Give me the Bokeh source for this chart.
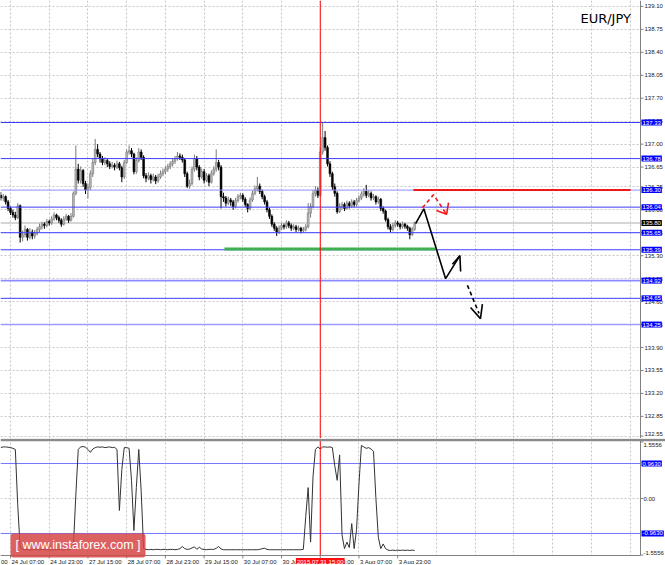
from bokeh.plotting import figure
from bokeh.models import Range1d, FixedTicker, Label, Span, ColumnDataSource
from bokeh.core.properties import value
from bokeh.layouts import column
from bokeh.embed import file_html
from bokeh.resources import INLINE

# ---------------- data (H1 bars, index 0 = 24 Jul 07:00) ----------------
bars = list(range(-4, 168))
opens = [136.22, 136.18, 136.20, 136.12, 136.02, 135.96, 135.92, 135.88,
         136.06, 135.58, 135.62, 135.70, 135.58, 135.66, 135.60, 135.64,
         135.70, 135.74, 135.78, 135.76, 135.82, 135.80, 135.86, 135.92,
         135.88, 135.84, 135.78, 135.86, 135.90, 135.84, 135.90, 136.25,
         136.62, 136.45, 136.60, 136.40, 136.30, 136.34, 136.55, 136.72,
         136.92, 136.85, 136.78, 136.72, 136.75, 136.70, 136.66, 136.68,
         136.65, 136.70, 136.64, 136.50, 136.72, 136.88, 136.90, 136.85,
         136.58, 136.75, 136.88, 136.80, 136.52, 136.48, 136.52, 136.46,
         136.50, 136.44, 136.50, 136.55, 136.58, 136.62, 136.66, 136.70,
         136.74, 136.78, 136.82, 136.80, 136.76, 136.55, 136.36, 136.40,
         136.62, 136.78, 136.65, 136.50, 136.58, 136.45, 136.52, 136.42,
         136.55, 136.62, 136.72, 136.65, 136.20, 136.18, 136.10, 136.15,
         136.12, 136.05, 136.14, 136.20, 136.22, 136.16, 136.08, 136.02,
         136.15, 136.25, 136.32, 136.36, 136.28, 136.20, 136.12, 136.00,
         135.90, 135.78, 135.72, 135.66, 135.72, 135.76, 135.74, 135.80,
         135.76, 135.72, 135.74, 135.70, 135.72, 135.68, 135.70, 135.74,
         135.95, 136.05, 136.25, 136.30, 136.22, 136.88, 137.10, 136.95,
         136.70, 136.55, 136.35, 136.25, 135.97, 136.05, 136.08, 136.02,
         136.10, 136.06, 136.12, 136.08, 136.14, 136.18, 136.24, 136.28,
         136.22, 136.25, 136.18, 136.20, 136.12, 136.16, 136.02, 135.98,
         135.85, 135.74, 135.70, 135.76, 135.80, 135.78, 135.74, 135.78,
         135.75, 135.72, 135.62, 135.70]
highs = [136.27, 136.24, 136.22, 136.15, 136.05, 136.00, 135.97, 136.10,
         136.08, 135.68, 135.76, 135.72, 135.72, 135.70, 135.69, 135.74,
         135.79, 135.82, 135.81, 135.86, 135.85, 135.90, 135.96, 135.94,
         135.91, 135.87, 135.90, 135.94, 135.92, 135.95, 136.28, 136.98,
         136.70, 136.66, 136.62, 136.44, 136.40, 136.60, 136.78, 137.08,
         137.00, 136.88, 136.82, 136.80, 136.78, 136.74, 136.73, 136.71,
         136.75, 136.73, 136.67, 136.76, 136.92, 136.98, 136.94, 136.87,
         136.80, 136.94, 136.92, 136.83, 136.56, 136.57, 136.55, 136.55,
         136.53, 136.55, 136.60, 136.63, 136.66, 136.70, 136.74, 136.78,
         136.82, 136.88, 136.86, 136.84, 136.79, 136.58, 136.46, 136.66,
         136.84, 136.82, 136.68, 136.63, 136.62, 136.56, 136.55, 136.60,
         136.66, 136.92, 136.76, 136.68, 136.26, 136.21, 136.20, 136.18,
         136.15, 136.18, 136.24, 136.26, 136.25, 136.19, 136.10, 136.19,
         136.29, 136.37, 136.50, 136.40, 136.31, 136.23, 136.15, 136.03,
         135.93, 135.81, 135.75, 135.76, 135.80, 135.79, 135.84, 135.83,
         135.79, 135.78, 135.77, 135.76, 135.74, 135.74, 135.78, 136.10,
         136.10, 136.30, 136.36, 136.34, 136.95, 137.33, 137.20, 136.98,
         136.74, 136.58, 136.40, 136.28, 136.10, 136.12, 136.11, 136.14,
         136.13, 136.16, 136.15, 136.18, 136.22, 136.28, 136.33, 136.38,
         136.30, 136.28, 136.24, 136.22, 136.20, 136.18, 136.05, 136.00,
         135.88, 135.78, 135.80, 135.84, 135.83, 135.80, 135.82, 135.80,
         135.77, 135.74, 135.74, 135.82]
lows = [136.14, 136.13, 136.08, 135.98, 135.92, 135.88, 135.84, 135.86,
        135.50, 135.52, 135.58, 135.53, 135.55, 135.55, 135.56, 135.61,
        135.66, 135.70, 135.71, 135.73, 135.76, 135.77, 135.83, 135.84,
        135.80, 135.74, 135.76, 135.83, 135.80, 135.82, 135.88, 136.22,
        136.40, 136.40, 136.35, 136.24, 136.17, 136.30, 136.50, 136.68,
        136.80, 136.72, 136.68, 136.68, 136.65, 136.62, 136.63, 136.60,
        136.62, 136.60, 136.42, 136.47, 136.70, 136.84, 136.80, 136.54,
        136.55, 136.72, 136.76, 136.48, 136.42, 136.45, 136.40, 136.43,
        136.39, 136.41, 136.47, 136.51, 136.54, 136.58, 136.62, 136.66,
        136.70, 136.75, 136.76, 136.72, 136.50, 136.33, 136.32, 136.37,
        136.58, 136.60, 136.45, 136.47, 136.40, 136.42, 136.36, 136.40,
        136.52, 136.58, 136.60, 136.02, 136.12, 136.05, 136.07, 136.06,
        136.00, 136.02, 136.11, 136.16, 136.12, 136.04, 135.96, 135.99,
        136.12, 136.22, 136.28, 136.24, 136.16, 136.08, 135.96, 135.86,
        135.74, 135.68, 135.60, 135.63, 135.69, 135.70, 135.71, 135.72,
        135.68, 135.69, 135.66, 135.67, 135.64, 135.65, 135.67, 135.72,
        135.88, 136.02, 136.20, 136.18, 136.20, 136.84, 136.90, 136.66,
        136.50, 136.30, 136.20, 135.94, 135.95, 136.00, 135.98, 136.00,
        136.02, 136.03, 136.04, 136.05, 136.11, 136.15, 136.20, 136.18,
        136.19, 136.14, 136.15, 136.08, 136.09, 135.98, 135.94, 135.82,
        135.70, 135.66, 135.67, 135.73, 135.74, 135.70, 135.71, 135.71,
        135.68, 135.55, 135.60, 135.68]
closes = [136.18, 136.20, 136.12, 136.02, 135.96, 135.92, 135.88, 136.06,
          135.58, 135.62, 135.70, 135.58, 135.66, 135.60, 135.64, 135.70,
          135.74, 135.78, 135.76, 135.82, 135.80, 135.86, 135.92, 135.88,
          135.84, 135.78, 135.86, 135.90, 135.84, 135.90, 136.25, 136.62,
          136.45, 136.60, 136.40, 136.30, 136.34, 136.55, 136.72, 136.92,
          136.85, 136.78, 136.72, 136.75, 136.70, 136.66, 136.68, 136.65,
          136.70, 136.64, 136.50, 136.72, 136.88, 136.90, 136.85, 136.58,
          136.75, 136.88, 136.80, 136.52, 136.48, 136.52, 136.46, 136.50,
          136.44, 136.50, 136.55, 136.58, 136.62, 136.66, 136.70, 136.74,
          136.78, 136.82, 136.80, 136.76, 136.55, 136.36, 136.40, 136.62,
          136.78, 136.65, 136.50, 136.58, 136.45, 136.52, 136.42, 136.55,
          136.62, 136.72, 136.65, 136.20, 136.18, 136.10, 136.15, 136.12,
          136.05, 136.14, 136.20, 136.22, 136.16, 136.08, 136.02, 136.15,
          136.25, 136.32, 136.36, 136.28, 136.20, 136.12, 136.00, 135.90,
          135.78, 135.72, 135.66, 135.72, 135.76, 135.74, 135.80, 135.76,
          135.72, 135.74, 135.70, 135.72, 135.68, 135.70, 135.74, 135.95,
          136.05, 136.25, 136.30, 136.22, 136.88, 137.10, 136.95, 136.70,
          136.55, 136.35, 136.25, 135.97, 136.05, 136.08, 136.02, 136.10,
          136.06, 136.12, 136.08, 136.14, 136.18, 136.24, 136.28, 136.22,
          136.25, 136.18, 136.20, 136.12, 136.16, 136.02, 135.98, 135.85,
          135.74, 135.70, 135.76, 135.80, 135.78, 135.74, 135.78, 135.75,
          135.72, 135.62, 135.70, 135.80]
oscillator = [1.40, 1.42, 1.42, 1.41, 1.40, 1.38, 1.35, -0.20,
              -1.35, -1.40, -1.41, -1.40, -1.42, -1.41, -1.40, -1.41,
              -1.42, -1.40, -1.41, -1.40, -1.41, -1.42, -1.40, -1.41,
              -1.40, -1.41, -1.42, -1.40, -1.41, -1.40, -1.30, 0.10,
              1.35, 1.42, 1.43, 1.41, 1.35, 1.27, 1.36, 1.40,
              1.42, 1.41, 1.42, 1.40, 1.41, 1.42, 1.40, 1.41,
              1.35, -0.33, 0.80, 1.40, 1.40, 1.38, 0.50, -0.88,
              0.30, 1.35, 0.20, -1.38, -1.40, -1.41, -1.40, -1.41,
              -1.40, -1.40, -1.41, -1.40, -1.40, -1.41, -1.40, -1.40,
              -1.41, -1.40, -1.38, -1.32, -1.38, -1.40, -1.39, -1.36,
              -1.33, -1.40, -1.34, -1.39, -1.40, -1.41, -1.40, -1.40,
              -1.40, -1.37, -1.32, -1.39, -1.41, -1.41, -1.41, -1.41,
              -1.41, -1.41, -1.41, -1.41, -1.41, -1.41, -1.41, -1.41,
              -1.41, -1.41, -1.41, -1.40, -1.38, -1.37, -1.40, -1.41,
              -1.41, -1.41, -1.41, -1.41, -1.41, -1.41, -1.41, -1.41,
              -1.41, -1.41, -1.41, -1.41, -1.41, -1.40, -0.50, 0.30,
              -1.20, 0.60, 1.35, 1.42, 1.36, 1.42, 1.42, 1.41,
              1.42, 1.40, 0.90, 0.50, 1.20, -1.00, -1.38, -1.20,
              -1.35, -0.69, -1.38, -0.85, 0.40, 1.46, 1.42, 1.38,
              1.40, 1.36, 1.30, 0.00, -1.07, -1.38, -1.25, -1.38,
              -1.42, -1.43, -1.42, -1.43, -1.42, -1.43, -1.42, -1.43,
              -1.42, -1.43, -1.42, -1.43]

symbol = "EUR/JPY"
level_values = [137.33, 136.78, 136.30, 136.04, 135.65, 135.39, 134.92, 134.65, 134.25]
level_labels = ["137.33", "136.78", "136.30", "136.04", "135.65", "135.39", "134.92", "134.65", "134.25"]
current_price = 135.80
current_label = "135.80"
price_ticks = [139.10, 138.75, 138.40, 138.05, 137.70, 137.35, 137.00, 136.65, 136.35,
               136.00, 135.65, 135.30, 134.95, 134.60, 134.25, 133.90, 133.55, 133.20,
               132.85, 132.55]
osc_levels = [0.963, -0.963]
osc_level_labels = ["0.9630", "-0.9630"]
osc_ticks = [1.5556, 0.0, -1.5556]
osc_tick_labels = ["1.5556", "0.00", "-1.5556"]
time_tick_bars = [0, 16, 32, 48, 64, 80, 96, 112, 128, 144, 160]
time_tick_labels = ["24 Jul 07:00", "24 Jul 23:00", "27 Jul 15:00",
                    "28 Jul 07:00", "28 Jul 23:00", "29 Jul 15:00", "30 Jul 07:00",
                    "30 Jul 23:00", "31 Jul 15:00", "3 Aug 07:00", "3 Aug 23:00"]
edge_time_fragment = "00"   # tail of the 23 Jul 15:00 label at the left edge
grid_bars = [0, 16, 32, 48, 64, 80, 96, 112, 128, 144, 160, 176, 192, 208, 224, 240, 256]
cursor_bar = 128
cursor_label = "2015.07.31 15:00"

# drawn analysis objects (bar index, price)
resistance_price = 136.30
resistance_bars = [166.5, 256.2]
support_price = 135.40
support_bars = [88.4, 175.6]
path_bars = [167.4, 170.8, 179.8, 185.7]
path_prices = [135.79, 136.015, 134.95, 135.30]
path_head_bars = [182.6, 185.7, 186.0]
path_head_prices = [135.17, 135.30, 135.06]
dash_bars = [188.8, 193.6]
dash_prices = [134.85, 134.42]
dash_head_bars = [190.1, 194.2, 195.0]
dash_head_prices = [134.51, 134.34, 134.56]
red_bars = [170.2, 174.8, 180.2]
red_prices = [136.03, 136.23, 135.93]
red_head_bars = [176.0, 180.2, 181.0]
red_head_prices = [135.99, 135.93, 136.11]

# ---------------- layout constants ----------------
FONT = "Liberation Sans"
AX_FS = "6px"
X_START, X_END = -4.132, 270.66   # full window width
AXIS_X = 260.33                   # price-scale line
P_LO, P_HI = 132.513, 139.19      # main panel price range
O_LO, O_HI = -1.816, 1.651        # oscillator panel incl. time strip
O_BASE, O_TOP = -1.568, 1.609     # oscillator panel bottom/top borders
TIME_Y = -1.747
W = 665
xr = Range1d(X_START, X_END)
AX = "#808080"

bull = [c >= o for o, c in zip(opens, closes)]
src = ColumnDataSource(dict(
    x=bars, h=highs, l=lows,
    top=[max(o, c) for o, c in zip(opens, closes)],
    bot=[min(o, c) for o, c in zip(opens, closes)],
    fill=["#b8b8b8" if b else "#000000" for b in bull],
    line=["#7a7a7a" if b else "#000000" for b in bull],
))


def base_fig(h, yr):
    f = figure(frame_width=W, frame_height=h, x_range=xr, y_range=yr,
               x_axis_location=None, y_axis_location=None, output_backend="svg",
               toolbar_location=None, min_border=0, outline_line_color=None,
               background_fill_color="white", border_fill_color="white")
    return f


# ================= main price panel =================
top = base_fig(438, Range1d(P_LO, P_HI))
top.xgrid.ticker = FixedTicker(ticks=grid_bars)
top.ygrid.ticker = FixedTicker(ticks=price_ticks)
for g in (top.xgrid, top.ygrid):
    g.grid_line_color = "#c6c6c6"
    g.grid_line_dash = "2 2"

top.add_layout(Span(location=current_price, dimension="width", line_color="#d6d6d6",
                    line_width=2, level="underlay"))

top.segment(x0="x", y0="h", x1="x", y1="l", source=src, line_color="line", line_width=1)
top.vbar(x="x", top="top", bottom="bot", width=0.75, source=src,
         fill_color="fill", line_color="line", line_width=0.6)

lev_src = ColumnDataSource(dict(
    y=level_values,
    color=["#3c3cff", "#3c3cff", "#8c8cff", "#3c3cff", "#3c3cff", "#3c3cff",
           "#8c8cff", "#3c3cff", "#9a9aff"],
    width=[1, 1, 1, 1, 1, 1, 1.6, 1, 1.6],
))
top.segment(x0=X_START, x1=AXIS_X, y0="y", y1="y", source=lev_src,
            line_color="color", line_width="width")

top.line(x=resistance_bars, y=[resistance_price, resistance_price], line_color="#f01818",
         line_width=2)
top.line(x=support_bars, y=[support_price, support_price], line_color="#3fb04f",
         line_width=3)
top.line(x=path_bars, y=path_prices, line_color="black", line_width=1.6)
top.line(x=path_head_bars, y=path_head_prices, line_color="black", line_width=1.6)
top.line(x=dash_bars, y=dash_prices, line_color="black", line_width=1.6, line_dash="4 3")
top.line(x=dash_head_bars, y=dash_head_prices, line_color="black", line_width=1.6)
top.line(x=red_bars, y=red_prices, line_color="#f01818", line_width=1.6, line_dash="4 3")
top.line(x=red_head_bars, y=red_head_prices, line_color="#f01818", line_width=1.6)

top.segment(x0=cursor_bar, x1=cursor_bar, y0=P_LO, y1=P_HI, line_color="#ff0000",
            line_width=1)

# price scale (drawn inside the frame)
top.quad(left=AXIS_X, right=X_END + 1, bottom=P_LO - 1, top=P_HI + 1,
         fill_color="white", line_color=None)
top.segment(x0=AXIS_X, x1=AXIS_X, y0=P_LO, y1=P_HI, line_color=AX, line_width=1)
top.segment(x0=AXIS_X, x1=AXIS_X + 1.2, y0=price_ticks, y1=price_ticks,
            line_color=AX, line_width=1)
top.text(x=AXIS_X, y=price_ticks, text=["%.2f" % v for v in price_ticks],
         x_offset=4, y_offset=[0] * (len(price_ticks) - 1) + [-2],
         text_font=value(FONT), text_font_size=AX_FS,
         text_color="#202020", text_align="left", text_baseline="middle")

top.add_layout(Label(x=235.5, y=138.91, text=symbol, text_font="DejaVu Sans",
                     text_font_size="13px", text_color="black", text_align="left",
                     text_baseline="middle"))

for v, t in zip(level_values, level_labels):
    top.add_layout(Label(x=AXIS_X, y=v, x_offset=1, text=t, text_font=FONT,
                         text_font_size=AX_FS, text_color="white",
                         text_align="left", text_baseline="middle",
                         background_fill_color="#0000ff", padding=1))
top.add_layout(Label(x=AXIS_X, y=current_price, x_offset=1, text=current_label,
                     text_font=FONT, text_font_size=AX_FS, text_color="white",
                     text_align="left", text_baseline="middle",
                     background_fill_color="#000000", padding=1))

# ================= oscillator panel =================
bot = base_fig(126, Range1d(O_LO, O_HI))
bot.xgrid.ticker = FixedTicker(ticks=grid_bars)
bot.ygrid.ticker = FixedTicker(ticks=[0.0])
for g in (bot.xgrid, bot.ygrid):
    g.grid_line_color = "#c6c6c6"
    g.grid_line_dash = "2 2"

bot.segment(x0=X_START, x1=AXIS_X, y0=osc_levels, y1=osc_levels,
            line_color="#7676ff", line_width=1)
bot.line(x=bars, y=oscillator, line_color="#333333", line_width=1)
bot.segment(x0=cursor_bar, x1=cursor_bar, y0=O_BASE, y1=O_TOP, line_color="#ff0000",
            line_width=1)

# white strips for scales
bot.quad(left=AXIS_X, right=X_END + 1, bottom=O_LO - 1, top=O_HI + 1,
         fill_color="white", line_color=None)
bot.quad(left=X_START - 1, right=X_END + 1, bottom=O_LO - 1, top=O_BASE,
         fill_color="white", line_color=None)

# borders
bot.segment(x0=X_START, x1=X_END, y0=O_TOP, y1=O_TOP, line_color="#8a8a8a",
            line_width=2.5)
bot.segment(x0=X_START, x1=AXIS_X, y0=O_BASE, y1=O_BASE, line_color=AX, line_width=1)
bot.segment(x0=AXIS_X, x1=AXIS_X, y0=O_BASE, y1=O_TOP, line_color=AX, line_width=1)
bot.segment(x0=AXIS_X, x1=AXIS_X + 1.2, y0=osc_ticks, y1=osc_ticks,
            line_color=AX, line_width=1)
bot.text(x=AXIS_X, y=osc_ticks, text=osc_tick_labels, x_offset=3,
         y_offset=[3.5, 0, -2.5], text_font=value(FONT), text_font_size=AX_FS,
         text_color="#202020", text_align="left", text_baseline="middle")

# time scale
bot.segment(x0=time_tick_bars, x1=time_tick_bars, y0=O_BASE, y1=O_BASE - 0.08,
            line_color=AX, line_width=1)
bot.text(x=time_tick_bars, y=TIME_Y, text=time_tick_labels, x_offset=1,
         text_font=value(FONT), text_font_size=AX_FS, text_color="#202020",
         text_align="left", text_baseline="middle")
bot.text(x=[X_START], y=[TIME_Y], text=[edge_time_fragment], x_offset=0.5,
         text_font=value(FONT), text_font_size=AX_FS, text_color="#202020",
         text_align="left", text_baseline="middle")

for v, t in zip(osc_levels, osc_level_labels):
    bot.add_layout(Label(x=AXIS_X, y=v, x_offset=1, text=t, text_font=FONT,
                         text_font_size=AX_FS, text_color="white",
                         text_align="left", text_baseline="middle",
                         background_fill_color="#0000ff", padding=1))

bot.add_layout(Label(x=0, y=-1.293, text="[ www.instaforex.com ]", text_font=FONT,
                     text_font_size="12.5px", text_color="white", text_align="left",
                     text_baseline="middle", background_fill_color="#d64545",
                     background_fill_alpha=0.85, padding=5, border_radius=3))

bot.add_layout(Label(x=cursor_bar, y=TIME_Y, text=cursor_label,
                     text_font=FONT, text_font_size=AX_FS, text_color="white",
                     text_align="center", text_baseline="middle",
                     background_fill_color="#ff1010", padding=1))

layout = column(top, bot, spacing=0)
open("out.html", "w").write(file_html(layout, INLINE))
